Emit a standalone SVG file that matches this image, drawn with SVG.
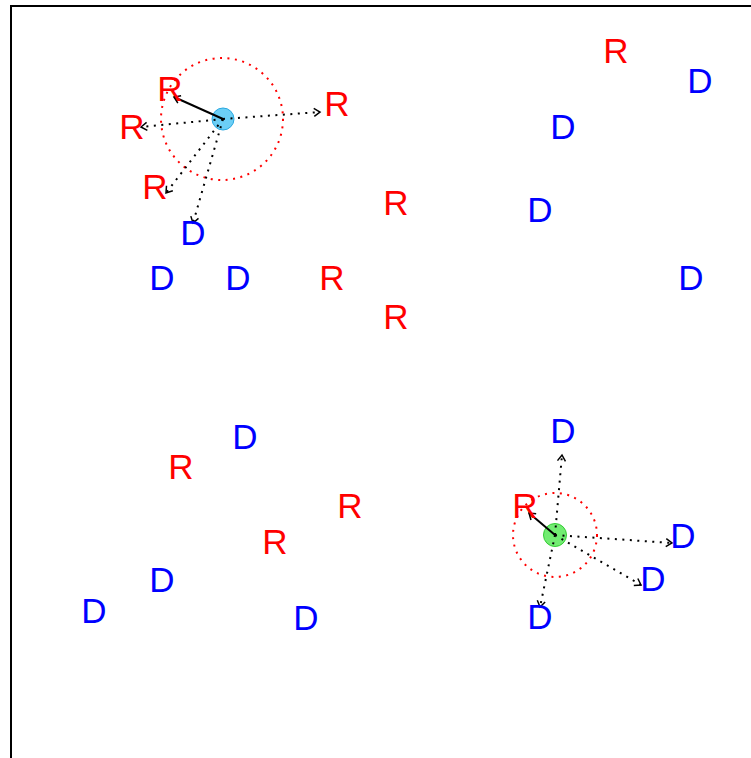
<svg xmlns="http://www.w3.org/2000/svg" width="751" height="758" viewBox="0 0 751 758">
  <style>
    text { font-family: "Liberation Sans", Arial, sans-serif; font-size: 35px; text-anchor: middle; }
    .r { fill: #ff0000; }
    .d { fill: #0000ff; }
    .frame { fill: none; stroke: #000; stroke-width: 2; }
    .ring { fill: none; stroke: #ff0000; stroke-width: 2; stroke-dasharray: 2 5.5; }
    .dot { stroke: #000; stroke-width: 2; stroke-dasharray: 2 5.5; fill: none; marker-end: url(#open); }
    .solid { stroke: #000; stroke-width: 2; fill: none; marker-end: url(#open); }
  </style>
  <defs>
    <marker id="open" markerUnits="userSpaceOnUse" markerWidth="14" markerHeight="14" viewBox="-8 -7 10 14" refX="0" refY="0" orient="auto">
      <path d="M-6,-4 L0,0 L-6,4" fill="none" stroke="#000" stroke-width="1.5"/>
    </marker>
  </defs>
  <rect width="751" height="758" fill="#fff"/>
  <path class="frame" d="M11,760 L11,6 L753,6"/>

  <!-- search radii -->
  <g id="radii">
    <circle class="ring" cx="222" cy="119" r="61"/>
    <circle class="ring" cx="555" cy="535" r="42"/>
  </g>

  <!-- agents -->
  <g id="agent-blue">
    <circle cx="223" cy="119" r="11" fill="#6ccff6" stroke="#29a8e0" stroke-width="1"/>
  </g>
  <g id="agent-green">
    <circle cx="555" cy="535" r="11.5" fill="#72ec72" stroke="#33cc33" stroke-width="1"/>
  </g>

  <!-- connectors -->
  <g id="connectors">
    <line class="solid" x1="223" y1="119" x2="174" y2="97"/>
    <line class="dot" x1="223" y1="119" x2="141" y2="127"/>
    <line class="dot" x1="223" y1="119" x2="320" y2="112"/>
    <line class="dot" x1="223" y1="119" x2="166" y2="193"/>
    <line class="dot" x1="223" y1="119" x2="193" y2="223"/>

    <line class="solid" x1="555" y1="535" x2="529" y2="513"/>
    <line class="dot" x1="555" y1="535" x2="562" y2="455"/>
    <line class="dot" x1="555" y1="535" x2="672" y2="543"/>
    <line class="dot" x1="555" y1="535" x2="641" y2="585"/>
    <line class="dot" x1="555" y1="535" x2="540" y2="607"/>
  </g>

  <!-- top-left cluster -->
  <g id="tl-r1"><text class="r" x="170" y="101">R</text></g>
  <g id="tl-r2"><text class="r" x="132" y="139">R</text></g>
  <g id="tl-r3"><text class="r" x="337" y="116">R</text></g>
  <g id="tl-r4"><text class="r" x="155" y="199">R</text></g>
  <g id="tl-d1"><text class="d" x="193" y="245">D</text></g>
  <g id="tl-d2"><text class="d" x="162" y="290">D</text></g>
  <g id="tl-d3"><text class="d" x="238" y="290">D</text></g>
  <g id="tl-r5"><text class="r" x="332" y="290">R</text></g>
  <g id="tl-r6"><text class="r" x="396" y="215">R</text></g>
  <g id="tl-r7"><text class="r" x="396" y="329">R</text></g>

  <!-- top-right cluster -->
  <g id="tr-r1"><text class="r" x="616" y="63">R</text></g>
  <g id="tr-d1"><text class="d" x="700" y="93">D</text></g>
  <g id="tr-d2"><text class="d" x="563" y="139">D</text></g>
  <g id="tr-d3"><text class="d" x="540" y="222">D</text></g>
  <g id="tr-d4"><text class="d" x="691" y="290">D</text></g>

  <!-- bottom-left cluster -->
  <g id="bl-d1"><text class="d" x="245" y="449">D</text></g>
  <g id="bl-r1"><text class="r" x="181" y="479">R</text></g>
  <g id="bl-r2"><text class="r" x="350" y="518">R</text></g>
  <g id="bl-r3"><text class="r" x="275" y="554">R</text></g>
  <g id="bl-d2"><text class="d" x="162" y="592">D</text></g>
  <g id="bl-d3"><text class="d" x="94" y="623">D</text></g>
  <g id="bl-d4"><text class="d" x="306" y="630">D</text></g>

  <!-- bottom-right cluster -->
  <g id="br-d1"><text class="d" x="563" y="443">D</text></g>
  <g id="br-r1"><text class="r" x="525" y="518">R</text></g>
  <g id="br-d2"><text class="d" x="683" y="548">D</text></g>
  <g id="br-d3"><text class="d" x="653" y="591">D</text></g>
  <g id="br-d4"><text class="d" x="540" y="629">D</text></g>
</svg>
